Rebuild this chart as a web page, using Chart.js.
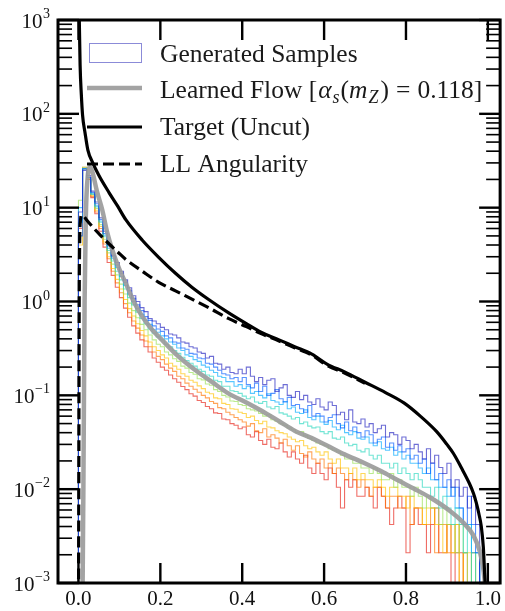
<!DOCTYPE html>
<html>
<head>
<meta charset="utf-8">
<script src="https://cdn.jsdelivr.net/npm/chart.js@4/dist/chart.umd.min.js"></script>
<style>
  html, body { margin: 0; padding: 0; background: #fff; }
</style>
</head>
<body>
<canvas id="myChart" width="505" height="611"></canvas>
<script>
// histogram bins: width 0.01 from 0 to 1 (bin left edge = index * BIN_W)
const BIN_W = 0.01;

const sampleDarkBlue = [
  0, 9, 25, 22, 15, 11.5, 7.8, 5.6, 4.1, 3.1,
  2.6, 2.1, 1.7, 1.4, 1.15, 1.0, 0.86, 0.78, 0.66, 0.62,
  0.58, 0.53, 0.50, 0.45, 0.44, 0.41, 0.37, 0.36, 0.33, 0.32,
  0.29, 0.28, 0.25, 0.26, 0.22, 0.215, 0.19, 0.20, 0.175, 0.17,
  0.19, 0.17, 0.2, 0.16, 0.14, 0.155, 0.13, 0.145, 0.15, 0.11,
  0.12, 0.13, 0.1, 0.095, 0.11, 0.09, 0.1, 0.085, 0.08, 0.092,
  0.075, 0.07, 0.085, 0.078, 0.062, 0.066, 0.055, 0.07, 0.052, 0.05,
  0.056, 0.046, 0.05, 0.04, 0.044, 0.048, 0.036, 0.04, 0.038, 0.03,
  0.036, 0.033, 0.027, 0.03, 0.025, 0.021, 0.027, 0.019, 0.023, 0.017,
  0.0147, 0.0189, 0.0105, 0.0126, 0.0084, 0.0105, 0.0063, 0.0084, 0.0042, 0
];
const sampleBlue = [
  0, 5, 26, 21, 14.5, 11, 7.5, 5.3, 3.9, 3.0,
  2.45, 2.0, 1.6, 1.3, 1.08, 0.92, 0.8, 0.69, 0.63, 0.55,
  0.51, 0.48, 0.43, 0.41, 0.37, 0.36, 0.32, 0.31, 0.28, 0.275,
  0.25, 0.245, 0.22, 0.215, 0.2, 0.185, 0.17, 0.165, 0.15, 0.155,
  0.14, 0.155, 0.13, 0.12, 0.135, 0.11, 0.125, 0.1, 0.105, 0.115,
  0.092, 0.085, 0.095, 0.078, 0.08, 0.072, 0.066, 0.078, 0.06, 0.064,
  0.06, 0.052, 0.058, 0.062, 0.05, 0.045, 0.052, 0.042, 0.046, 0.04,
  0.036, 0.042, 0.038, 0.031, 0.034, 0.036, 0.028, 0.031, 0.026, 0.029,
  0.025, 0.027, 0.021, 0.023, 0.0189, 0.021, 0.0147, 0.0189, 0.0126, 0.0147,
  0.0105, 0.0126, 0.0084, 0.0105, 0.0063, 0.0042, 0.0084, 0.0042, 0.0021, 0
];
const sampleSky = [
  0, 10, 26, 21, 14, 10.5, 7.2, 5.1, 3.7, 2.85,
  2.3, 1.85, 1.48, 1.2, 1.0, 0.84, 0.73, 0.63, 0.57, 0.5,
  0.47, 0.43, 0.4, 0.37, 0.35, 0.32, 0.3, 0.27, 0.26, 0.24,
  0.23, 0.21, 0.2, 0.185, 0.175, 0.16, 0.155, 0.14, 0.14, 0.125,
  0.13, 0.118, 0.125, 0.105, 0.11, 0.1, 0.094, 0.104, 0.088, 0.085,
  0.08, 0.086, 0.072, 0.075, 0.066, 0.064, 0.07, 0.058, 0.055, 0.06,
  0.052, 0.049, 0.054, 0.046, 0.043, 0.048, 0.04, 0.038, 0.041, 0.035,
  0.034, 0.036, 0.031, 0.029, 0.032, 0.027, 0.026, 0.028, 0.023, 0.025,
  0.021, 0.023, 0.0189, 0.0189, 0.0168, 0.0147, 0.0168, 0.0126, 0.0126, 0.0105,
  0.0105, 0.0084, 0.0105, 0.0063, 0.0063, 0.0042, 0.0042, 0.0021, 0.0021, 0
];
const sampleCyan = [
  0, 7, 26, 21, 14, 10.2, 7.0, 4.9, 3.5, 2.7,
  2.1, 1.7, 1.36, 1.1, 0.92, 0.77, 0.66, 0.58, 0.51, 0.46,
  0.42, 0.39, 0.35, 0.33, 0.3, 0.28, 0.255, 0.235, 0.22, 0.205,
  0.19, 0.18, 0.165, 0.16, 0.145, 0.14, 0.125, 0.125, 0.112, 0.11,
  0.105, 0.098, 0.092, 0.096, 0.085, 0.082, 0.086, 0.075, 0.072, 0.076,
  0.065, 0.063, 0.06, 0.056, 0.058, 0.05, 0.052, 0.047, 0.045, 0.046,
  0.041, 0.039, 0.041, 0.035, 0.034, 0.036, 0.031, 0.029, 0.03, 0.026,
  0.025, 0.027, 0.023, 0.021, 0.023, 0.0189, 0.0189, 0.0168, 0.0189, 0.0147,
  0.0168, 0.0147, 0.0126, 0.0147, 0.0126, 0.0105, 0.0105, 0.0084, 0.0105, 0.0063,
  0.0084, 0.0063, 0.0042, 0.0063, 0.0042, 0.0021, 0.0042, 0, 0.0021, 0
];
const sampleGreen = [
  0, 12, 27, 21, 14, 9.8, 6.6, 4.6, 3.3, 2.5,
  1.92, 1.53, 1.2, 0.96, 0.8, 0.67, 0.57, 0.5, 0.44, 0.39,
  0.35, 0.33, 0.29, 0.27, 0.245, 0.23, 0.205, 0.195, 0.175, 0.168,
  0.15, 0.146, 0.132, 0.128, 0.115, 0.11, 0.1, 0.096, 0.087, 0.086,
  0.08, 0.078, 0.072, 0.07, 0.068, 0.064, 0.06, 0.062, 0.055, 0.053,
  0.05, 0.048, 0.045, 0.043, 0.04, 0.041, 0.037, 0.035, 0.033, 0.031,
  0.03, 0.029, 0.027, 0.026, 0.025, 0.023, 0.021, 0.021, 0.0189, 0.0189,
  0.0168, 0.0168, 0.0147, 0.0168, 0.0147, 0.0126, 0.0126, 0.0147, 0.0105, 0.0126,
  0.0105, 0.0105, 0.0084, 0.0105, 0.0084, 0.0063, 0.0084, 0.0063, 0.0063, 0.0042,
  0.0063, 0.0042, 0.0042, 0.0021, 0.0042, 0.0021, 0, 0.0021, 0, 0
];
const sampleYellow = [
  0, 4, 26, 21, 13.6, 9.4, 6.3, 4.3, 3.0, 2.25,
  1.72, 1.36, 1.05, 0.84, 0.7, 0.58, 0.49, 0.43, 0.37, 0.33,
  0.3, 0.27, 0.25, 0.22, 0.205, 0.19, 0.17, 0.16, 0.145, 0.138,
  0.126, 0.118, 0.108, 0.104, 0.094, 0.092, 0.082, 0.08, 0.072, 0.071,
  0.066, 0.064, 0.058, 0.06, 0.054, 0.05, 0.053, 0.046, 0.045, 0.042,
  0.04, 0.039, 0.036, 0.034, 0.032, 0.033, 0.029, 0.027, 0.028, 0.025,
  0.023, 0.025, 0.021, 0.0189, 0.021, 0.0168, 0.0168, 0.0147, 0.0168, 0.0126,
  0.0147, 0.0126, 0.0126, 0.0105, 0.0126, 0.0105, 0.0084, 0.0105, 0.0105, 0.0084,
  0.0084, 0.0063, 0.0084, 0.0063, 0.0063, 0.0042, 0.0063, 0.0063, 0.0042, 0.0042,
  0.0021, 0.0042, 0.0021, 0.0042, 0, 0.0021, 0.0021, 0, 0, 0
];
const sampleOrange = [
  0, 8, 27, 20, 13.2, 9.0, 6.0, 4.1, 2.85, 2.1,
  1.58, 1.24, 0.95, 0.76, 0.62, 0.52, 0.44, 0.38, 0.33, 0.29,
  0.26, 0.24, 0.215, 0.195, 0.18, 0.16, 0.15, 0.135, 0.125, 0.116,
  0.108, 0.1, 0.094, 0.086, 0.082, 0.074, 0.072, 0.066, 0.062, 0.058,
  0.055, 0.052, 0.047, 0.05, 0.042, 0.04, 0.044, 0.036, 0.038, 0.035,
  0.031, 0.034, 0.029, 0.026, 0.029, 0.024, 0.022, 0.025, 0.021, 0.0189,
  0.021, 0.0168, 0.0189, 0.0147, 0.0168, 0.0147, 0.0126, 0.0147, 0.0126, 0.0105,
  0.0126, 0.0105, 0.0084, 0.0105, 0.0105, 0.0084, 0.0063, 0.0084, 0.0084, 0.0063,
  0.0063, 0.0084, 0.0042, 0.0063, 0.0063, 0.0042, 0.0042, 0.0063, 0.0021, 0.0042,
  0.0042, 0.0021, 0.0021, 0.0042, 0, 0.0021, 0, 0.0021, 0, 0
];
const sampleRed = [
  0, 6, 26, 20, 12.8, 8.6, 5.6, 3.8, 2.6, 1.9,
  1.42, 1.1, 0.85, 0.68, 0.55, 0.46, 0.39, 0.33, 0.29, 0.25,
  0.225, 0.2, 0.185, 0.165, 0.15, 0.138, 0.124, 0.115, 0.104, 0.098,
  0.088, 0.084, 0.076, 0.072, 0.065, 0.064, 0.056, 0.055, 0.05, 0.048,
  0.044, 0.046, 0.038, 0.036, 0.041, 0.033, 0.03, 0.034, 0.028, 0.027,
  0.031, 0.025, 0.022, 0.025, 0.021, 0.0189, 0.023, 0.0168, 0.0147, 0.0189,
  0.0147, 0.0126, 0.0168, 0.0147, 0.0105, 0.0063, 0.0126, 0.0105, 0.0126, 0.0084,
  0.0084, 0.0105, 0.0084, 0.0063, 0.0105, 0.0084, 0.0063, 0.0042, 0.0063, 0.0084,
  0.0063, 0.0021, 0.0042, 0.0063, 0.0042, 0.0042, 0.0021, 0.0042, 0.0063, 0.0021,
  0.0021, 0.0042, 0, 0.0021, 0.0021, 0, 0, 0, 0, 0
];

// Learned flow (grey)
const flowX = [0.010, 0.012, 0.015, 0.018, 0.022, 0.028, 0.034, 0.045, 0.058, 0.07, 0.083, 0.1, 0.116, 0.135, 0.155, 0.18, 0.204, 0.24, 0.285, 0.325, 0.366, 0.41, 0.446, 0.49, 0.528, 0.57, 0.608, 0.65, 0.698, 0.74, 0.778, 0.82, 0.858, 0.9, 0.94, 0.965, 0.98, 0.989, 0.995];
const flowY = [0.0008, 0.01, 1, 8, 20, 27, 24, 15, 9.5, 5.5, 3.5, 2.2, 1.55, 1.0, 0.70, 0.50, 0.39, 0.27, 0.186, 0.14, 0.105, 0.084, 0.069, 0.053, 0.042, 0.035, 0.029, 0.0235, 0.019, 0.0155, 0.0126, 0.0101, 0.0082, 0.0062, 0.0044, 0.0032, 0.0022, 0.0014, 0.0008];

// Target (uncut)
const targetX = [0.0, 0.002, 0.004, 0.007, 0.010, 0.016, 0.023, 0.035, 0.05, 0.075, 0.095, 0.116, 0.156, 0.196, 0.237, 0.277, 0.318, 0.366, 0.41, 0.446, 0.49, 0.528, 0.57, 0.608, 0.65, 0.70, 0.75, 0.795, 0.835, 0.875, 0.9, 0.916, 0.935, 0.955, 0.965, 0.972, 0.978, 0.984, 0.989, 0.992, 0.995];
const targetY = [5000, 1000, 330, 160, 97, 63, 41, 30, 22, 14.4, 10.5, 7.4, 4.5, 2.96, 2.0, 1.42, 1.05, 0.76, 0.58, 0.47, 0.39, 0.33, 0.275, 0.214, 0.178, 0.138, 0.107, 0.083, 0.06, 0.041, 0.030, 0.024, 0.017, 0.0115, 0.009, 0.0071, 0.0055, 0.0040, 0.0024, 0.0013, 0.0007];

// LL angularity (dashed)
const llX = [0.0, 0.0005, 0.001, 0.0015, 0.002, 0.003, 0.005, 0.008, 0.012, 0.02, 0.035, 0.055, 0.075, 0.095, 0.116, 0.156, 0.196, 0.237, 0.277, 0.318, 0.366, 0.41, 0.446, 0.49, 0.528, 0.57, 0.608, 0.65, 0.70];
const llY = [0.0005, 0.003, 0.03, 0.3, 1.5, 4.5, 7.4, 8.3, 8.2, 7.4, 6.2, 5.0, 4.1, 3.4, 2.8, 2.1, 1.6, 1.3, 1.06, 0.86, 0.66, 0.54, 0.455, 0.38, 0.322, 0.268, 0.208, 0.173, 0.134];

const xTicks = [0.0, 0.2, 0.4, 0.6, 0.8, 1.0];
const yExponents = [-3, -2, -1, 0, 1, 2, 3];

const samples = [
  { values: sampleDarkBlue, color: "rgba(30, 30, 190, 0.65)" },
  { values: sampleBlue, color: "rgba(0, 90, 255, 0.65)" },
  { values: sampleSky, color: "rgba(0, 170, 255, 0.65)" },
  { values: sampleCyan, color: "rgba(40, 215, 190, 0.65)" },
  { values: sampleGreen, color: "rgba(150, 225, 80, 0.65)" },
  { values: sampleYellow, color: "rgba(255, 195, 0, 0.65)" },
  { values: sampleOrange, color: "rgba(255, 115, 0, 0.65)" },
  { values: sampleRed, color: "rgba(230, 30, 20, 0.65)" },
];

// empty bins sit below the axis floor
const toStep = (vals) => {
  const pts = vals.map((v, i) => ({ x: i * BIN_W, y: v > 0 ? v : 1e-5 }));
  const last = vals[vals.length - 1];
  pts.push({ x: vals.length * BIN_W, y: last > 0 ? last : 1e-5 });
  return pts;
};
const zip = (xs, ys) => xs.map((x, i) => ({ x: x, y: ys[i] }));

const datasets = samples.map((s) => ({
  data: toStep(s.values),
  stepped: "after",
  borderColor: s.color,
  borderWidth: 1.1,
  pointRadius: 0,
  fill: false,
  clip: 0,
  order: 4,
}));
datasets.push({
  data: zip(flowX, flowY),
  borderColor: "rgba(155, 155, 155, 0.92)",
  borderWidth: 4.5,
  cubicInterpolationMode: "monotone",
  pointRadius: 0,
  clip: 0,
  order: 3,
});
datasets.push({
  data: zip(targetX, targetY),
  borderColor: "#000",
  borderWidth: 3.2,
  cubicInterpolationMode: "monotone",
  pointRadius: 0,
  clip: 0,
  order: 2,
});
datasets.push({
  data: zip(llX, llY),
  borderColor: "#000",
  borderWidth: 3.2,
  borderDash: [11, 5],
  cubicInterpolationMode: "monotone",
  pointRadius: 0,
  clip: 0,
  order: 1,
});

const SERIF = "'Liberation Serif', 'Times New Roman', serif";

function seg(ctx, x1, y1, x2, y2) {
  ctx.beginPath();
  ctx.moveTo(x1, y1);
  ctx.lineTo(x2, y2);
  ctx.stroke();
}

// frame, inward ticks, y labels and legend
const framePlugin = {
  id: "frame",
  afterDatasetsDraw(chart) {
    const { ctx, chartArea: a, scales } = chart;
    const xs = scales.x;
    const ys = scales.y;
    ctx.save();
    ctx.strokeStyle = "#000";
    ctx.lineCap = "butt";

    ctx.lineWidth = 2.4;
    xTicks.forEach((v) => {
      const px = xs.getPixelForValue(v);
      seg(ctx, px, a.bottom, px, a.bottom - 20);
      seg(ctx, px, a.top, px, a.top + 20);
    });

    yExponents.forEach((k) => {
      const py = ys.getPixelForValue(Math.pow(10, k));
      ctx.lineWidth = 2.4;
      seg(ctx, a.left, py, a.left + 21, py);
      seg(ctx, a.right, py, a.right - 21, py);
      if (k < 3) {
        ctx.lineWidth = 1.6;
        for (let m = 2; m <= 9; m++) {
          const pm = ys.getPixelForValue(m * Math.pow(10, k));
          seg(ctx, a.left, pm, a.left + 14, pm);
          seg(ctx, a.right, pm, a.right - 14, pm);
        }
      }
    });

    ctx.lineWidth = 3;
    ctx.strokeRect(a.left, a.top, a.right - a.left, a.bottom - a.top);

    // y labels 10^k
    ctx.fillStyle = "#111";
    ctx.textBaseline = "alphabetic";
    yExponents.forEach((k) => {
      const py = ys.getPixelForValue(Math.pow(10, k));
      const exp = k < 0 ? "\u2212" + Math.abs(k) : String(k);
      ctx.font = "14px " + SERIF;
      const ew = ctx.measureText(exp).width;
      const right = 50;
      ctx.textAlign = "left";
      ctx.fillText(exp, right - ew, py - 2);
      ctx.font = "21px " + SERIF;
      const bw = ctx.measureText("10").width;
      ctx.fillText("10", right - ew - bw - 0.5, py + 7.5);
    });

    // legend
    const lx0 = 87, lx1 = 142, tx = 160;
    ctx.strokeStyle = "rgba(90, 90, 200, 0.7)";
    ctx.lineWidth = 1;
    ctx.strokeRect(89.5, 43.5, 52, 19);
    ctx.strokeStyle = "rgba(155, 155, 155, 0.92)";
    ctx.lineWidth = 4.5;
    seg(ctx, lx0, 88, lx1, 88);
    ctx.strokeStyle = "#000";
    ctx.lineWidth = 3.2;
    seg(ctx, lx0, 127, lx1, 127);
    ctx.setLineDash([11, 5]);
    seg(ctx, lx0, 164, lx1, 164);
    ctx.setLineDash([]);

    const norm = "25.5px " + SERIF;
    const ital = "italic 25.5px " + SERIF;
    const sub = "italic 18px " + SERIF;
    ctx.textAlign = "left";
    ctx.fillStyle = "#1a1a1a";
    ctx.font = norm;
    ctx.fillText("Generated Samples", tx, 62);
    ctx.fillText("Target (Uncut)", tx, 135);
    ctx.fillText("LL Angularity", tx, 172);

    const parts = [
      ["Learned Flow [", norm, 0, 1],
      ["\u03B1", ital, 0, 1],
      ["s", sub, 5, 1],
      ["(", norm, 0, 0],
      ["m", ital, 0, 1],
      ["Z", sub, 5, 2],
      [")", norm, 0, 7],
      ["=", norm, 0, 7],
      ["0.118]", norm, 0, 0],
    ];
    let cx = tx;
    parts.forEach(([t, f, dy, gap]) => {
      ctx.font = f;
      ctx.fillText(t, cx, 98 + dy);
      cx += ctx.measureText(t).width + gap;
    });
    ctx.restore();
  },
};

const ctx = document.getElementById("myChart");
new Chart(ctx, {
  type: "line",
  data: { datasets: datasets },
  options: {
    responsive: false,
    animation: false,
    events: [],
    layout: { padding: { top: 20, right: 1, left: 0, bottom: 0 } },
    plugins: { legend: { display: false }, tooltip: { enabled: false } },
    scales: {
      x: {
        type: "linear",
        min: -0.05,
        max: 1.03,
        grid: { display: false, drawTicks: false },
        border: { display: false },
        afterBuildTicks: (s) => { s.ticks = xTicks.map((v) => ({ value: v })); },
        afterFit: (s) => { s.height = 28; },
        ticks: {
          padding: 4,
          color: "#111",
          font: { family: SERIF, size: 21 },
          callback: (v) => Number(v).toFixed(1),
        },
      },
      y: {
        type: "logarithmic",
        min: 1e-3,
        max: 1e3,
        grid: { display: false, drawTicks: false },
        border: { display: false },
        ticks: { display: false },
        afterFit: (s) => { s.width = 58; },
      },
    },
  },
  plugins: [framePlugin],
});
</script>
</body>
</html>
